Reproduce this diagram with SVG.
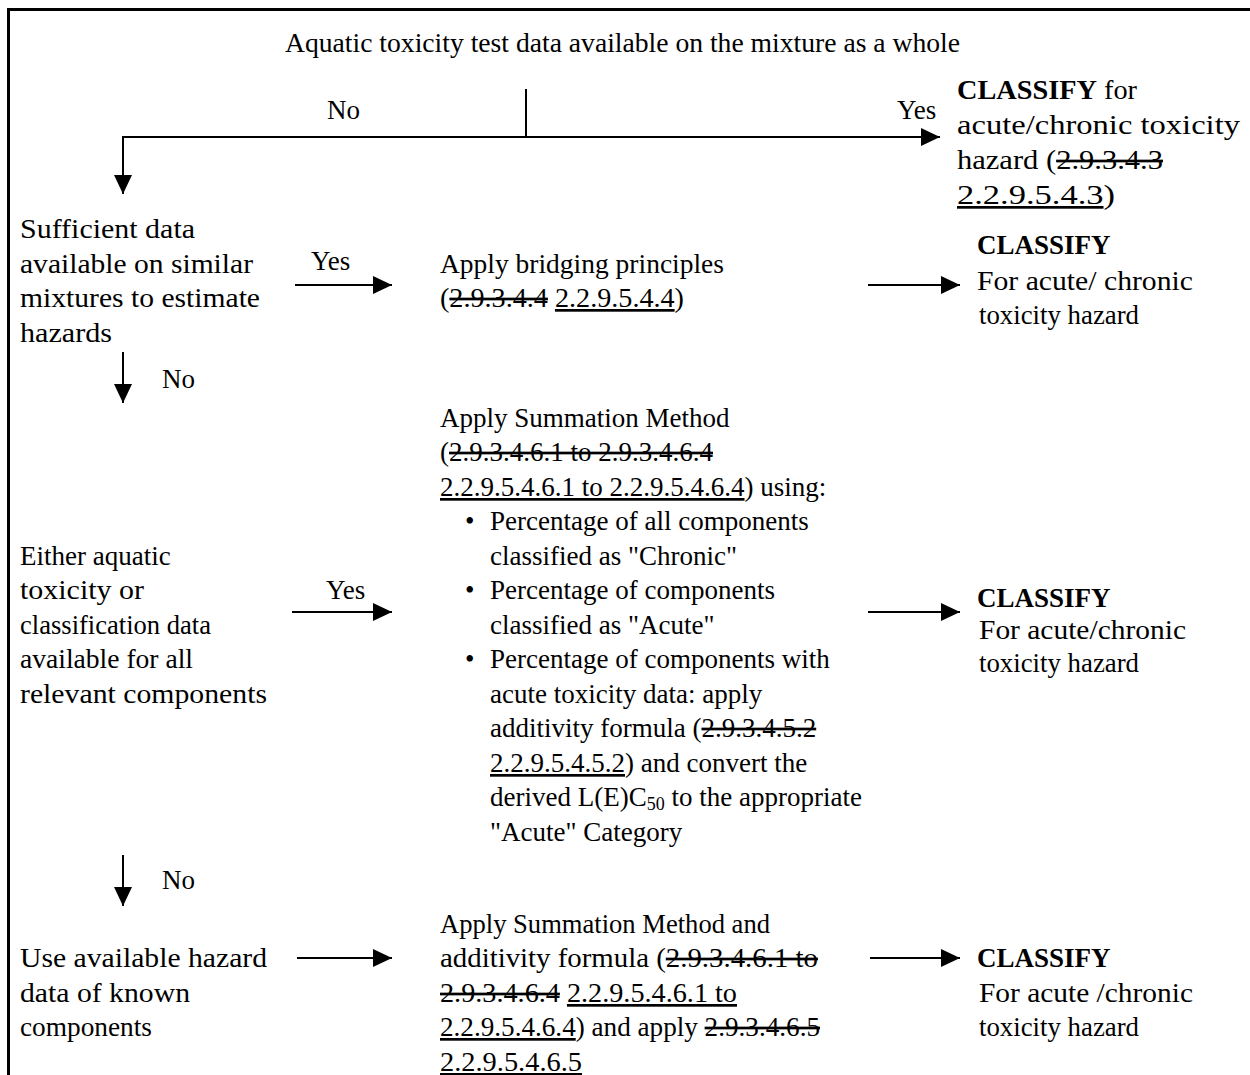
<svg xmlns="http://www.w3.org/2000/svg" width="1250" height="1075" viewBox="0 0 1250 1075">
<defs>
<marker id="ah" markerUnits="userSpaceOnUse" markerWidth="20" markerHeight="19" refX="19" refY="9" orient="auto">
<path d="M0,0 L19,9 L0,18 z" fill="#000"/>
</marker>
</defs>
<style>
text{font-family:"Liberation Serif","Times New Roman",serif;font-size:27px;fill:#000}
.b{font-weight:bold}
.s{text-decoration:line-through}
.u{text-decoration:underline}
.c{stroke:#000;stroke-width:2;fill:none}
.a{stroke:#000;stroke-width:2;fill:none;marker-end:url(#ah)}
</style>
<rect width="1250" height="1075" fill="#fff"/>
<path d="M8.5,1075 V9.5 H1250" stroke="#000" stroke-width="3" fill="none"/>
<g id="connectors">
<path class="c" d="M526,89 V137"/>
<path class="a" d="M526,137 H940"/>
<path class="a" d="M526,137 H123 V194"/>
<path class="a" d="M295,285 H392"/>
<path class="a" d="M868,285 H960"/>
<path class="a" d="M123,352 V403"/>
<path class="a" d="M292,612 H392"/>
<path class="a" d="M868,612 H960"/>
<path class="a" d="M123,855 V906"/>
<path class="a" d="M297,958 H392"/>
<path class="a" d="M870,958 H960"/>
<text x="327" y="119">No</text>
<text x="897" y="119">Yes</text>
<text x="311" y="270">Yes</text>
<text x="162" y="388">No</text>
<text x="326" y="599">Yes</text>
<text x="162" y="889">No</text>
</g>
<g id="n-start">
<text x="285" y="52" textLength="675" lengthAdjust="spacingAndGlyphs">Aquatic toxicity test data available on the mixture as a whole</text>
</g>
<g id="n-classify1">
<text x="957" y="99" textLength="180" lengthAdjust="spacingAndGlyphs"><tspan class="b">CLASSIFY</tspan> for</text>
<text x="957" y="134" textLength="283" lengthAdjust="spacingAndGlyphs">acute/chronic toxicity</text>
<text x="957" y="169" textLength="206" lengthAdjust="spacingAndGlyphs">hazard (<tspan class="s">2.9.3.4.3</tspan></text>
<text x="957" y="204" textLength="158" lengthAdjust="spacingAndGlyphs"><tspan class="u">2.2.9.5.4.3</tspan>)</text>
</g>
<g id="n-sufficient">
<text x="20" y="238" textLength="175" lengthAdjust="spacingAndGlyphs">Sufficient data</text>
<text x="20" y="273" textLength="233" lengthAdjust="spacingAndGlyphs">available on similar</text>
<text x="20" y="307" textLength="240" lengthAdjust="spacingAndGlyphs">mixtures to estimate</text>
<text x="20" y="342" textLength="92" lengthAdjust="spacingAndGlyphs">hazards</text>
</g>
<g id="n-bridging">
<text x="440" y="273" textLength="284" lengthAdjust="spacingAndGlyphs">Apply bridging principles</text>
<text x="440" y="307" textLength="244" lengthAdjust="spacingAndGlyphs">(<tspan class="s">2.9.3.4.4</tspan> <tspan class="u">2.2.9.5.4.4</tspan>)</text>
</g>
<g id="n-classify2">
<text x="977" y="254" class="b">CLASSIFY</text>
<text x="977" y="290" textLength="216" lengthAdjust="spacingAndGlyphs">For acute/ chronic</text>
<text x="979" y="324" textLength="160" lengthAdjust="spacingAndGlyphs">toxicity hazard</text>
</g>
<g id="n-either">
<text x="20" y="565">Either aquatic</text>
<text x="20" y="599" textLength="124" lengthAdjust="spacingAndGlyphs">toxicity or</text>
<text x="20" y="634" textLength="191" lengthAdjust="spacingAndGlyphs">classification data</text>
<text x="20" y="668" textLength="173" lengthAdjust="spacingAndGlyphs">available for all</text>
<text x="20" y="703" textLength="247" lengthAdjust="spacingAndGlyphs">relevant components</text>
</g>
<g id="n-summation">
<text x="440" y="427">Apply Summation Method</text>
<text x="440" y="461">(<tspan class="s">2.9.3.4.6.1 to 2.9.3.4.6.4</tspan></text>
<text x="440" y="496"><tspan class="u">2.2.9.5.4.6.1 to 2.2.9.5.4.6.4</tspan>) using:</text>
<text x="465" y="530" font-size="30">•</text>
<text x="490" y="530">Percentage of all components</text>
<text x="490" y="565">classified as "Chronic"</text>
<text x="465" y="599" font-size="30">•</text>
<text x="490" y="599">Percentage of components</text>
<text x="490" y="634">classified as "Acute"</text>
<text x="465" y="668" font-size="30">•</text>
<text x="490" y="668">Percentage of components with</text>
<text x="490" y="703">acute toxicity data: apply</text>
<text x="490" y="737">additivity formula (<tspan class="s">2.9.3.4.5.2</tspan></text>
<text x="490" y="772"><tspan class="u">2.2.9.5.4.5.2</tspan>) and convert the</text>
<text x="490" y="806">derived L(E)C<tspan font-size="18" dy="4">50</tspan><tspan dy="-4"> to the appropriate</tspan></text>
<text x="490" y="841">"Acute" Category</text>
</g>
<g id="n-classify3">
<text x="977" y="607" class="b">CLASSIFY</text>
<text x="979" y="639" textLength="207" lengthAdjust="spacingAndGlyphs">For acute/chronic</text>
<text x="979" y="672" textLength="160" lengthAdjust="spacingAndGlyphs">toxicity hazard</text>
</g>
<g id="n-use">
<text x="20" y="967" textLength="247" lengthAdjust="spacingAndGlyphs">Use available hazard</text>
<text x="20" y="1002" textLength="170" lengthAdjust="spacingAndGlyphs">data of known</text>
<text x="20" y="1036" textLength="132" lengthAdjust="spacingAndGlyphs">components</text>
</g>
<g id="n-summation2">
<text x="440" y="933" textLength="330" lengthAdjust="spacingAndGlyphs">Apply Summation Method and</text>
<text x="440" y="967" textLength="378" lengthAdjust="spacingAndGlyphs">additivity formula (<tspan class="s">2.9.3.4.6.1 to</tspan></text>
<text x="440" y="1002" textLength="297" lengthAdjust="spacingAndGlyphs"><tspan class="s">2.9.3.4.6.4</tspan> <tspan class="u">2.2.9.5.4.6.1 to</tspan></text>
<text x="440" y="1036" textLength="380" lengthAdjust="spacingAndGlyphs"><tspan class="u">2.2.9.5.4.6.4</tspan>) and apply <tspan class="s">2.9.3.4.6.5</tspan></text>
<text x="440" y="1071" textLength="142" lengthAdjust="spacingAndGlyphs"><tspan class="u">2.2.9.5.4.6.5</tspan></text>
</g>
<g id="n-classify4">
<text x="977" y="967" class="b">CLASSIFY</text>
<text x="979" y="1002" textLength="214" lengthAdjust="spacingAndGlyphs">For acute /chronic</text>
<text x="979" y="1036" textLength="160" lengthAdjust="spacingAndGlyphs">toxicity hazard</text>
</g>
</svg>
